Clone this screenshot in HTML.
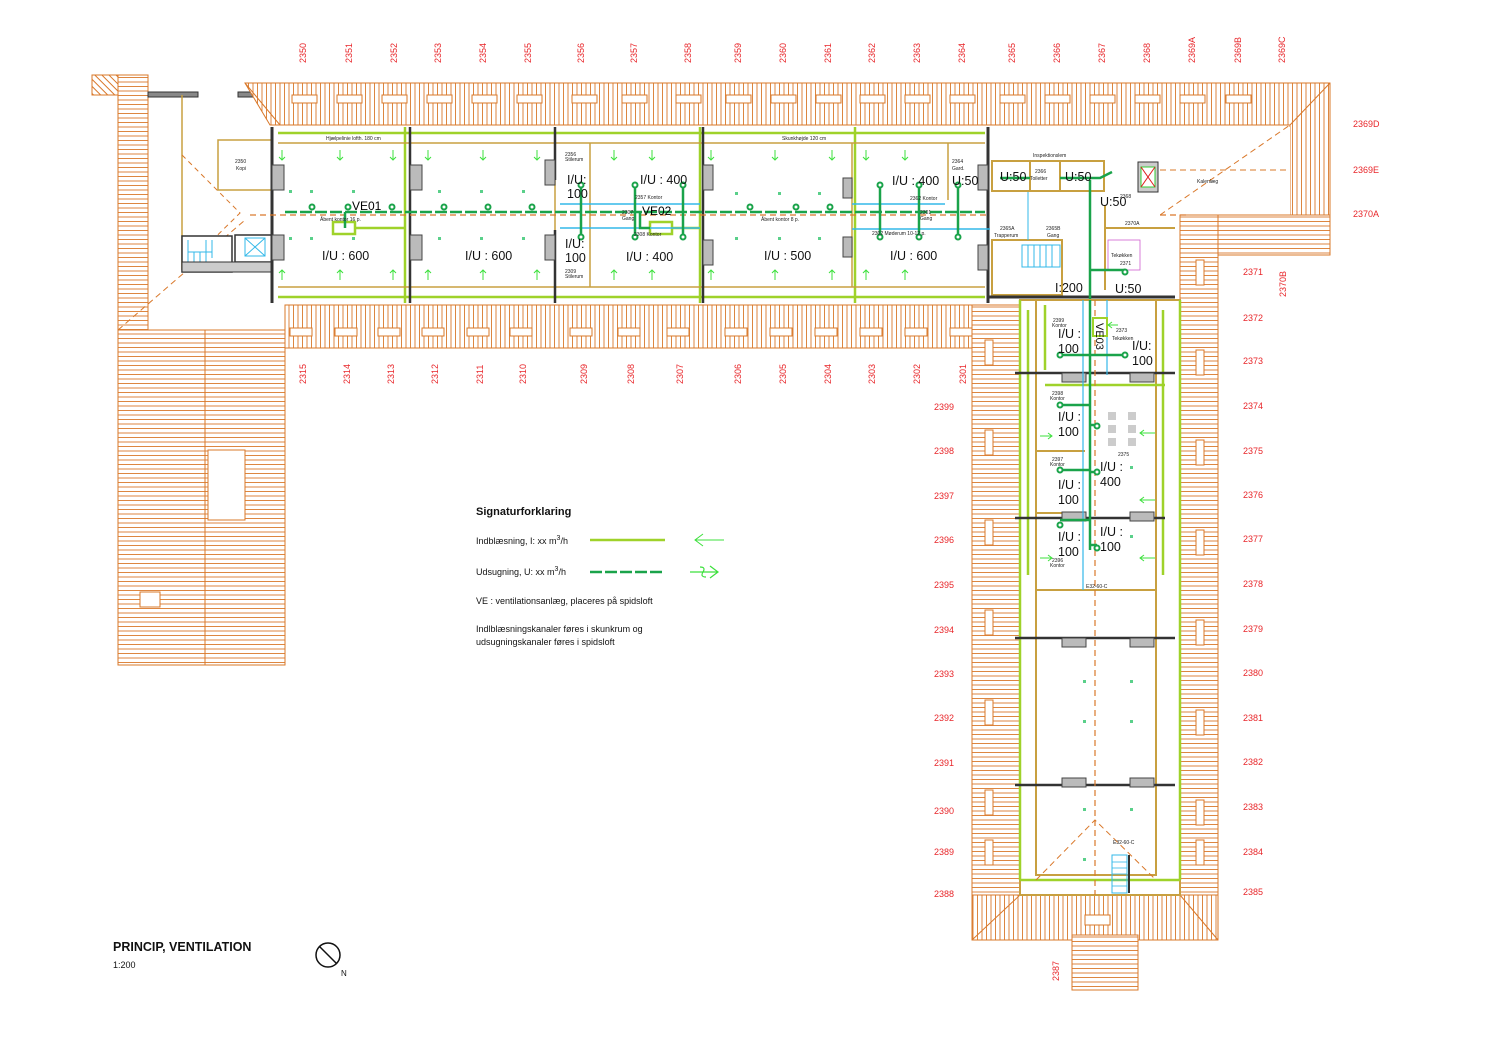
<!DOCTYPE html>
<html><head><meta charset="utf-8"><style>
html,body{margin:0;padding:0;background:#fff}
svg{display:block}
text{font-family:"Liberation Sans",sans-serif}
.r{fill:#e8262a;font-size:9px}
.iu{font-size:12.5px;fill:#111}
.sm{font-size:5px;fill:#222}
</style></head><body>
<svg width="1485" height="1050" viewBox="0 0 1485 1050" xmlns="http://www.w3.org/2000/svg">
<defs>
<pattern id="vh" width="4.5" height="10" patternUnits="userSpaceOnUse"><rect width="4.5" height="10" fill="#fff"/><line x1="1" y1="0" x2="1" y2="10" stroke="#d9782a" stroke-width="0.9"/></pattern>
<pattern id="hh" width="10" height="4.5" patternUnits="userSpaceOnUse"><rect width="10" height="4.5" fill="#fff"/><line x1="0" y1="1" x2="10" y2="1" stroke="#d9782a" stroke-width="0.9"/></pattern>
<pattern id="dh" width="5" height="5" patternUnits="userSpaceOnUse" patternTransform="rotate(45)"><rect width="5" height="5" fill="#fff"/><line x1="0" y1="1" x2="5" y2="1" stroke="#d9782a" stroke-width="1"/></pattern>
</defs>

<!-- top-left chunk -->
<rect x="92" y="75" width="56" height="20" fill="url(#dh)" stroke="#d9782a"/>
<!-- left wing -->
<rect x="118" y="75" width="30" height="260" fill="url(#hh)" stroke="#d9782a"/>
<rect x="118" y="330" width="167" height="335" fill="url(#hh)" stroke="#d9782a"/>
<line x1="205" y1="330" x2="205" y2="665" stroke="#d9782a"/>
<rect x="208" y="450" width="37" height="70" fill="#fff" stroke="#d9782a"/>
<rect x="140" y="592" width="20" height="15" fill="#fff" stroke="#d9782a"/>
<line x1="118" y1="330" x2="245" y2="220" stroke="#d9782a" stroke-dasharray="6,4"/>
<!-- left upper area -->
<rect x="148" y="92" width="50" height="5" fill="#888" stroke="#333"/>
<rect x="238" y="92" width="40" height="5" fill="#888" stroke="#333"/>
<line x1="182" y1="95" x2="182" y2="270" stroke="#c8a040" stroke-width="1.5"/>
<rect x="218" y="140" width="54" height="50" fill="none" stroke="#c8a040" stroke-width="1.5"/>
<text x="235" y="163" class="sm" font-size="6">2350</text><text x="236" y="170" class="sm" font-size="6">Kopi</text>
<path d="M182,155 L240,213 L182,270" fill="none" stroke="#d9782a" stroke-dasharray="5,4"/>
<rect x="182" y="236" width="50" height="36" fill="#fff" stroke="#333" stroke-width="1.5"/>
<g stroke="#33b8e8" stroke-width="1"><line x1="188" y1="240" x2="188" y2="268"/><line x1="194" y1="252" x2="194" y2="268"/><line x1="200" y1="252" x2="200" y2="268"/><line x1="206" y1="240" x2="206" y2="268"/><line x1="188" y1="252" x2="212" y2="252"/><line x1="212" y1="240" x2="212" y2="258"/></g>
<rect x="235" y="235" width="37" height="27" fill="#fff" stroke="#333" stroke-width="1.5"/>
<rect x="245" y="238" width="20" height="18" fill="none" stroke="#33b8e8"/>
<path d="M245,238 L265,256 M265,238 L245,256" stroke="#33b8e8"/>
<rect x="182" y="262" width="90" height="10" fill="#ccc" stroke="#333"/>

<!-- top roof band -->
<polygon points="245,83 1330,83 1330,255 1290,255 1290,125 285,125 270,125" fill="url(#vh)" stroke="#d9782a"/>
<line x1="245" y1="83" x2="280" y2="125" stroke="#d9782a"/>
<g fill="#fff" stroke="#d9782a">
<rect x="292" y="95" width="25" height="8"/><rect x="337" y="95" width="25" height="8"/><rect x="382" y="95" width="25" height="8"/><rect x="427" y="95" width="25" height="8"/><rect x="472" y="95" width="25" height="8"/><rect x="517" y="95" width="25" height="8"/><rect x="572" y="95" width="25" height="8"/><rect x="622" y="95" width="25" height="8"/><rect x="676" y="95" width="25" height="8"/><rect x="726" y="95" width="25" height="8"/><rect x="771" y="95" width="25" height="8"/><rect x="816" y="95" width="25" height="8"/><rect x="860" y="95" width="25" height="8"/><rect x="905" y="95" width="25" height="8"/><rect x="950" y="95" width="25" height="8"/><rect x="1000" y="95" width="25" height="8"/><rect x="1045" y="95" width="25" height="8"/><rect x="1090" y="95" width="25" height="8"/><rect x="1135" y="95" width="25" height="8"/><rect x="1180" y="95" width="25" height="8"/><rect x="1226" y="95" width="25" height="8"/>
</g>
<!-- right end -->
<rect x="1160" y="127" width="130" height="88" fill="#fff"/>
<rect x="1180" y="215" width="150" height="40" fill="url(#hh)" stroke="#d9782a"/>
<line x1="1290" y1="125" x2="1330" y2="83" stroke="#d9782a"/>
<path d="M1160,215 L1290,125" stroke="#d9782a" stroke-dasharray="6,4" fill="none"/>
<line x1="1150" y1="170" x2="1290" y2="170" stroke="#d9782a" stroke-dasharray="6,4"/>
<text x="1197" y="183" class="sm" font-size="6">Kalenlæg</text>

<!-- main bottom band -->
<rect x="285" y="305" width="725" height="43" fill="url(#vh)" stroke="#d9782a"/>
<g fill="#fff" stroke="#d9782a">
<rect x="290" y="328" width="22" height="8"/><rect x="335" y="328" width="22" height="8"/><rect x="378" y="328" width="22" height="8"/><rect x="422" y="328" width="22" height="8"/><rect x="467" y="328" width="22" height="8"/><rect x="510" y="328" width="22" height="8"/><rect x="570" y="328" width="22" height="8"/><rect x="618" y="328" width="22" height="8"/><rect x="667" y="328" width="22" height="8"/><rect x="725" y="328" width="22" height="8"/><rect x="770" y="328" width="22" height="8"/><rect x="815" y="328" width="22" height="8"/><rect x="860" y="328" width="22" height="8"/><rect x="905" y="328" width="22" height="8"/><rect x="950" y="328" width="22" height="8"/>
</g>

<!-- right wing roofs -->
<rect x="972" y="305" width="48" height="635" fill="url(#hh)" stroke="#d9782a"/>
<rect x="1180" y="215" width="38" height="725" fill="url(#hh)" stroke="#d9782a"/>
<rect x="972" y="895" width="246" height="45" fill="url(#vh)" stroke="#d9782a"/>
<line x1="972" y1="940" x2="1020" y2="895" stroke="#d9782a"/><line x1="1218" y1="940" x2="1180" y2="895" stroke="#d9782a"/>
<rect x="1072" y="935" width="66" height="55" fill="url(#hh)" stroke="#d9782a"/>
<g fill="#fff" stroke="#d9782a">
<rect x="985" y="340" width="8" height="25"/><rect x="985" y="430" width="8" height="25"/><rect x="985" y="520" width="8" height="25"/><rect x="985" y="610" width="8" height="25"/><rect x="985" y="700" width="8" height="25"/><rect x="985" y="790" width="8" height="25"/><rect x="985" y="840" width="8" height="25"/>
<rect x="1196" y="260" width="8" height="25"/><rect x="1196" y="350" width="8" height="25"/><rect x="1196" y="440" width="8" height="25"/><rect x="1196" y="530" width="8" height="25"/><rect x="1196" y="620" width="8" height="25"/><rect x="1196" y="710" width="8" height="25"/><rect x="1196" y="800" width="8" height="25"/><rect x="1196" y="840" width="8" height="25"/>
<rect x="1085" y="915" width="25" height="10"/>
</g>

<!-- main wing interior -->
<rect x="272" y="127" width="718" height="176" fill="#fff"/>
<line x1="272" y1="127" x2="272" y2="303" stroke="#333" stroke-width="3"/>
<line x1="988" y1="127" x2="988" y2="303" stroke="#333" stroke-width="3"/>
<g stroke="#9fd22a" stroke-width="2.5" fill="none">
<line x1="278" y1="133" x2="985" y2="133"/>
<line x1="278" y1="297" x2="985" y2="297"/>
<line x1="405" y1="127" x2="405" y2="303"/>
<line x1="700" y1="127" x2="700" y2="303"/>
<line x1="855" y1="127" x2="855" y2="303"/>
<rect x="333" y="222" width="22" height="12"/><rect x="650" y="222" width="22" height="12"/>
<line x1="355" y1="228" x2="405" y2="228"/><line x1="672" y1="228" x2="700" y2="228"/>
</g>
<g stroke="#c8a040" stroke-width="1.5" fill="none">
<line x1="278" y1="143" x2="985" y2="143"/>
<line x1="278" y1="287" x2="985" y2="287"/>
<line x1="590" y1="143" x2="590" y2="287"/>
<line x1="852" y1="143" x2="852" y2="287"/>
<line x1="948" y1="143" x2="948" y2="200"/>
<line x1="555" y1="143" x2="555" y2="287"/>
<line x1="703" y1="143" x2="703" y2="287"/>
</g>
<g stroke="#333" stroke-width="2.5">
<line x1="410" y1="127" x2="410" y2="303"/><line x1="555" y1="127" x2="555" y2="180"/><line x1="555" y1="230" x2="555" y2="303"/><line x1="703" y1="127" x2="703" y2="303"/>
</g>
<g fill="#bbb" stroke="#444">
<rect x="272" y="165" width="12" height="25"/><rect x="272" y="235" width="12" height="25"/>
<rect x="410" y="165" width="12" height="25"/><rect x="410" y="235" width="12" height="25"/>
<rect x="545" y="160" width="10" height="25"/><rect x="545" y="235" width="10" height="25"/>
<rect x="703" y="165" width="10" height="25"/><rect x="703" y="240" width="10" height="25"/>
<rect x="843" y="178" width="9" height="20"/><rect x="843" y="237" width="9" height="20"/>
<rect x="978" y="165" width="10" height="25"/><rect x="978" y="245" width="10" height="25"/>
</g>
<g stroke="#33b8e8" stroke-width="1.5">
<line x1="560" y1="204" x2="700" y2="204"/><line x1="560" y1="228" x2="700" y2="228"/>
<line x1="852" y1="204" x2="945" y2="204"/><line x1="852" y1="229" x2="990" y2="229"/>
</g>
<line x1="250" y1="215" x2="1190" y2="215" stroke="#d9782a" stroke-dasharray="6,4" stroke-width="1.2"/>
<line x1="285" y1="212" x2="985" y2="212" stroke="#1aa34a" stroke-width="2.5" stroke-dasharray="12,3"/>
<g stroke="#1aa34a" stroke-width="2.5" fill="none">
<line x1="581" y1="185" x2="581" y2="237"/><line x1="635" y1="185" x2="635" y2="237"/><line x1="683" y1="185" x2="683" y2="237"/>
<line x1="880" y1="185" x2="880" y2="237"/><line x1="919" y1="185" x2="919" y2="237"/><line x1="958" y1="185" x2="958" y2="237"/>
<path d="M640,212 L640,228 L650,228"/><path d="M345,212 L345,228"/>
</g>
<g fill="#fff" stroke="#1aa34a" stroke-width="2">
<circle cx="312" cy="207" r="2.5"/><circle cx="348" cy="207" r="2.5"/><circle cx="392" cy="207" r="2.5"/>
<circle cx="444" cy="207" r="2.5"/><circle cx="488" cy="207" r="2.5"/><circle cx="532" cy="207" r="2.5"/>
<circle cx="581" cy="185" r="2.5"/><circle cx="581" cy="237" r="2.5"/><circle cx="635" cy="185" r="2.5"/><circle cx="635" cy="237" r="2.5"/><circle cx="683" cy="185" r="2.5"/><circle cx="683" cy="237" r="2.5"/>
<circle cx="750" cy="207" r="2.5"/><circle cx="796" cy="207" r="2.5"/><circle cx="830" cy="207" r="2.5"/>
<circle cx="880" cy="185" r="2.5"/><circle cx="880" cy="237" r="2.5"/><circle cx="919" cy="185" r="2.5"/><circle cx="919" cy="237" r="2.5"/><circle cx="958" cy="185" r="2.5"/><circle cx="958" cy="237" r="2.5"/>
</g>
<g stroke="#3ce03c" stroke-width="1" fill="none">
<path d="M282,150 v10 m-3,-3 l3,3 l3,-3 M340,150 v10 m-3,-3 l3,3 l3,-3 M393,150 v10 m-3,-3 l3,3 l3,-3 M428,150 v10 m-3,-3 l3,3 l3,-3 M483,150 v10 m-3,-3 l3,3 l3,-3 M537,150 v10 m-3,-3 l3,3 l3,-3 M614,150 v10 m-3,-3 l3,3 l3,-3 M652,150 v10 m-3,-3 l3,3 l3,-3 M711,150 v10 m-3,-3 l3,3 l3,-3 M775,150 v10 m-3,-3 l3,3 l3,-3 M832,150 v10 m-3,-3 l3,3 l3,-3 M866,150 v10 m-3,-3 l3,3 l3,-3 M905,150 v10 m-3,-3 l3,3 l3,-3"/>
<path d="M282,280 v-10 m-3,3 l3,-3 l3,3 M340,280 v-10 m-3,3 l3,-3 l3,3 M393,280 v-10 m-3,3 l3,-3 l3,3 M428,280 v-10 m-3,3 l3,-3 l3,3 M483,280 v-10 m-3,3 l3,-3 l3,3 M537,280 v-10 m-3,3 l3,-3 l3,3 M614,280 v-10 m-3,3 l3,-3 l3,3 M652,280 v-10 m-3,3 l3,-3 l3,3 M711,280 v-10 m-3,3 l3,-3 l3,3 M775,280 v-10 m-3,3 l3,-3 l3,3 M832,280 v-10 m-3,3 l3,-3 l3,3 M866,280 v-10 m-3,3 l3,-3 l3,3 M905,280 v-10 m-3,3 l3,-3 l3,3"/>
</g>
<g fill="#5ad08a">
<rect x="289" y="190" width="3" height="3"/><rect x="310" y="190" width="3" height="3"/><rect x="352" y="190" width="3" height="3"/><rect x="289" y="237" width="3" height="3"/><rect x="310" y="237" width="3" height="3"/><rect x="352" y="237" width="3" height="3"/>
<rect x="438" y="190" width="3" height="3"/><rect x="480" y="190" width="3" height="3"/><rect x="522" y="190" width="3" height="3"/><rect x="438" y="237" width="3" height="3"/><rect x="480" y="237" width="3" height="3"/><rect x="522" y="237" width="3" height="3"/>
<rect x="735" y="192" width="3" height="3"/><rect x="778" y="192" width="3" height="3"/><rect x="818" y="192" width="3" height="3"/><rect x="735" y="237" width="3" height="3"/><rect x="778" y="237" width="3" height="3"/><rect x="818" y="237" width="3" height="3"/>
</g>
<text x="352" y="210" font-size="12">VE01</text>
<text x="642" y="215" font-size="12">VE02</text>
<text x="320" y="221" class="sm">Åbent kontor 16 p.</text>
<text x="761" y="221" class="sm">Åbent kontor 8 p.</text>
<text x="635" y="199" class="sm">2357 Kontor</text>
<text x="634" y="236" class="sm">2308 Kontor</text>
<text x="910" y="200" class="sm">2362 Kontor</text>
<text x="872" y="235" class="sm">2302 Møderum 10-12 p.</text>
<text x="622" y="214" class="sm">2307</text><text x="622" y="220" class="sm">Gang</text>
<text x="920" y="214" class="sm">2301</text><text x="920" y="220" class="sm">Gang</text>
<text x="565" y="156" class="sm">2356</text><text x="565" y="161" class="sm">Stilerum</text>
<text x="565" y="273" class="sm">2309</text><text x="565" y="278" class="sm">Stilerum</text>
<text x="952" y="163" class="sm" font-size="6">2364</text><text x="952" y="170" class="sm" font-size="6">Gard.</text>
<text x="326" y="140" class="sm" font-size="4.5">Hjælpelinie lofth. 180 cm</text>
<text x="782" y="140" class="sm" font-size="4.5">Skunkhøjde 120 cm</text>
<text x="322" y="260" class="iu">I/U : 600</text>
<text x="465" y="260" class="iu">I/U : 600</text>
<text x="567" y="184" class="iu">I/U:</text><text x="567" y="198" class="iu">100</text>
<text x="565" y="248" class="iu">I/U:</text><text x="565" y="262" class="iu">100</text>
<text x="640" y="184" class="iu">I/U : 400</text>
<text x="626" y="261" class="iu">I/U : 400</text>
<text x="764" y="260" class="iu">I/U : 500</text>
<text x="892" y="185" class="iu">I/U : 400</text>
<text x="890" y="260" class="iu">I/U : 600</text>
<text x="952" y="185" class="iu">U:50</text>

<!-- service block top right -->
<rect x="990" y="160" width="170" height="140" fill="#fff"/>
<g stroke="#c8a040" stroke-width="2" fill="none">
<rect x="992" y="161" width="112" height="30"/>
<line x1="1030" y1="161" x2="1030" y2="191"/><line x1="1060" y1="161" x2="1060" y2="191"/>
<rect x="992" y="240" width="70" height="55"/>
<path d="M1105,205 L1105,290 M1105,228 L1175,228"/>
</g>
<rect x="1138" y="162" width="20" height="30" fill="#ccc" stroke="#333"/>
<rect x="1141" y="167" width="14" height="20" fill="#fff" stroke="#3c3"/>
<path d="M1141,167 L1155,187 M1155,167 L1141,187" stroke="#e02020"/>
<rect x="1022" y="245" width="38" height="22" fill="none" stroke="#33b8e8"/>
<g stroke="#33b8e8"><line x1="1028" y1="245" x2="1028" y2="267"/><line x1="1034" y1="245" x2="1034" y2="267"/><line x1="1040" y1="245" x2="1040" y2="267"/><line x1="1046" y1="245" x2="1046" y2="267"/><line x1="1052" y1="245" x2="1052" y2="267"/><line x1="1028" y1="192" x2="1028" y2="240"/></g>
<rect x="1108" y="240" width="32" height="30" fill="none" stroke="#d060d0" stroke-width="0.8"/>
<line x1="988" y1="297" x2="1175" y2="297" stroke="#333" stroke-width="3"/>
<line x1="1090" y1="180" x2="1090" y2="370" stroke="#1aa34a" stroke-width="2.5"/>
<g stroke="#1aa34a" stroke-width="2.5" fill="none"><path d="M1000,178 H1030 M1060,178 H1100 L1112,172 M1090,270 H1125"/></g>
<text x="1033" y="157" class="sm" font-size="6">Inspektionslem</text>
<text x="1035" y="173" class="sm">2366</text><text x="1030" y="180" class="sm" font-size="4">Toiletter</text>
<text x="1120" y="198" class="sm">2368</text>
<text x="1125" y="225" class="sm">2370A</text>
<text x="1000" y="230" class="sm" font-size="5.5">2365A</text><text x="994" y="237" class="sm" font-size="5.5">Trapperum</text>
<text x="1046" y="230" class="sm" font-size="5.5">2365B</text><text x="1047" y="237" class="sm" font-size="5.5">Gang</text>
<text x="1111" y="257" class="sm" font-size="5.5">Tekøkken</text><text x="1120" y="265" class="sm" font-size="5.5">2371</text>
<text x="1000" y="181" class="iu">U:50</text>
<text x="1065" y="181" class="iu">U:50</text>
<text x="1100" y="206" class="iu">U:50</text>
<text x="1055" y="292" class="iu">I:200</text>
<text x="1115" y="293" class="iu">U:50</text>

<!-- right wing interior -->
<rect x="1020" y="300" width="160" height="595" fill="#fff"/>
<g stroke="#c8a040" stroke-width="2" fill="none">
<rect x="1020" y="300" width="160" height="595"/>
<rect x="1036" y="590" width="120" height="285"/>
<line x1="1036" y1="300" x2="1036" y2="590"/><line x1="1156" y1="300" x2="1156" y2="590"/>
<line x1="1036" y1="451" x2="1085" y2="451"/><line x1="1036" y1="513" x2="1085" y2="513"/>
</g>
<g stroke="#9fd22a" stroke-width="2.5" fill="none">
<line x1="1028" y1="310" x2="1028" y2="575"/><line x1="1163" y1="310" x2="1163" y2="575"/>
<line x1="1020" y1="880" x2="1180" y2="880"/><line x1="1020" y1="880" x2="1020" y2="300"/><line x1="1180" y1="300" x2="1180" y2="880"/>
<line x1="1045" y1="305" x2="1045" y2="370"/><line x1="1045" y1="385" x2="1165" y2="385"/>
</g>
<g stroke="#333" stroke-width="2.5">
<line x1="1015" y1="373" x2="1175" y2="373"/><line x1="1015" y1="518" x2="1165" y2="518"/><line x1="1015" y1="638" x2="1175" y2="638"/><line x1="1015" y1="785" x2="1175" y2="785"/>
</g>
<g fill="#bbb" stroke="#444">
<rect x="1062" y="373" width="24" height="9"/><rect x="1130" y="373" width="24" height="9"/>
<rect x="1062" y="512" width="24" height="9"/><rect x="1130" y="512" width="24" height="9"/>
<rect x="1062" y="638" width="24" height="9"/><rect x="1130" y="638" width="24" height="9"/>
<rect x="1062" y="778" width="24" height="9"/><rect x="1130" y="778" width="24" height="9"/>
</g>
<line x1="1095" y1="300" x2="1095" y2="895" stroke="#d9782a" stroke-dasharray="6,4" stroke-width="1.2"/>
<path d="M1036,880 L1095,820 L1156,880" fill="none" stroke="#d9782a" stroke-dasharray="6,4"/>
<line x1="1083" y1="300" x2="1083" y2="590" stroke="#33b8e8" stroke-width="1.2"/>
<line x1="1107" y1="300" x2="1107" y2="375" stroke="#33b8e8" stroke-width="1.2"/>
<rect x="1112" y="855" width="15" height="38" fill="none" stroke="#33b8e8"/>
<g stroke="#33b8e8" stroke-width="0.8"><line x1="1112" y1="862" x2="1127" y2="862"/><line x1="1112" y1="868" x2="1127" y2="868"/><line x1="1112" y1="874" x2="1127" y2="874"/><line x1="1112" y1="880" x2="1127" y2="880"/><line x1="1112" y1="886" x2="1127" y2="886"/></g>
<line x1="1129" y1="855" x2="1129" y2="893" stroke="#333" stroke-width="2"/>
<g stroke="#1aa34a" stroke-width="2.5" fill="none">
<path d="M1090,300 V550 M1060,355 H1090 V355 H1125 M1060,405 H1090 M1060,470 H1090 M1060,520 H1090 M1090,425 H1097 M1090,472 H1097 M1090,545 H1097"/>
</g>
<rect x="1093" y="318" width="14" height="18" fill="#fff" stroke="#9fd22a" stroke-width="2"/>
<g fill="#fff" stroke="#1aa34a" stroke-width="2">
<circle cx="1060" cy="355" r="2.5"/><circle cx="1125" cy="355" r="2.5"/><circle cx="1060" cy="405" r="2.5"/><circle cx="1097" cy="426" r="2.5"/><circle cx="1060" cy="470" r="2.5"/><circle cx="1097" cy="472" r="2.5"/><circle cx="1060" cy="525" r="2.5"/><circle cx="1097" cy="548" r="2.5"/><circle cx="1125" cy="272" r="2.5"/>
</g>
<g fill="#ccc"><rect x="1108" y="412" width="8" height="8"/><rect x="1128" y="412" width="8" height="8"/><rect x="1108" y="425" width="8" height="8"/><rect x="1128" y="425" width="8" height="8"/><rect x="1108" y="438" width="8" height="8"/><rect x="1128" y="438" width="8" height="8"/></g>
<g stroke="#3ce03c" fill="none"><path d="M1155,433 h-15 m4,-3 l-4,3 l4,3 M1155,500 h-15 m4,-3 l-4,3 l4,3 M1155,558 h-15 m4,-3 l-4,3 l4,3 M1040,436 h12 m-4,-3 l4,3 l-4,3 M1040,558 h12 m-4,-3 l4,3 l-4,3 M1118,325 h-10 m4,-3 l-4,3 l4,3"/></g>
<g fill="#5ad08a"><rect x="1130" y="466" width="3" height="3"/><rect x="1130" y="535" width="3" height="3"/><rect x="1083" y="680" width="3" height="3"/><rect x="1130" y="680" width="3" height="3"/><rect x="1083" y="720" width="3" height="3"/><rect x="1130" y="720" width="3" height="3"/><rect x="1083" y="808" width="3" height="3"/><rect x="1130" y="808" width="3" height="3"/><rect x="1083" y="858" width="3" height="3"/></g>
<text x="1117" y="334" font-size="11" transform="rotate(90 1112 318)" fill="#111">VE03</text>
<text x="1053" y="322" class="sm">2399</text><text x="1052" y="327" class="sm">Kontor</text>
<text x="1116" y="332" class="sm">2373</text><text x="1112" y="340" class="sm">Tekøkken</text>
<text x="1052" y="395" class="sm">2398</text><text x="1050" y="400" class="sm">Kontor</text>
<text x="1052" y="461" class="sm">2397</text><text x="1050" y="466" class="sm">Kontor</text>
<text x="1052" y="562" class="sm">2396</text><text x="1050" y="567" class="sm">Kontor</text>
<text x="1118" y="456" class="sm">2375</text>
<text x="1086" y="588" class="sm" font-size="4">E32-60-C</text>
<text x="1113" y="844" class="sm" font-size="4">E32-60-C</text>
<text x="1058" y="338" class="iu">I/U :</text><text x="1058" y="353" class="iu">100</text>
<text x="1132" y="350" class="iu">I/U:</text><text x="1132" y="365" class="iu">100</text>
<text x="1058" y="421" class="iu">I/U :</text><text x="1058" y="436" class="iu">100</text>
<text x="1058" y="489" class="iu">I/U :</text><text x="1058" y="504" class="iu">100</text>
<text x="1100" y="471" class="iu">I/U :</text><text x="1100" y="486" class="iu">400</text>
<text x="1058" y="541" class="iu">I/U :</text><text x="1058" y="556" class="iu">100</text>
<text x="1100" y="536" class="iu">I/U :</text><text x="1100" y="551" class="iu">100</text>

<g class="r">
<text transform="translate(306,63) rotate(-90)">2350</text><text transform="translate(352,63) rotate(-90)">2351</text><text transform="translate(397,63) rotate(-90)">2352</text><text transform="translate(441,63) rotate(-90)">2353</text><text transform="translate(486,63) rotate(-90)">2354</text><text transform="translate(531,63) rotate(-90)">2355</text><text transform="translate(584,63) rotate(-90)">2356</text><text transform="translate(637,63) rotate(-90)">2357</text><text transform="translate(691,63) rotate(-90)">2358</text><text transform="translate(741,63) rotate(-90)">2359</text><text transform="translate(786,63) rotate(-90)">2360</text><text transform="translate(831,63) rotate(-90)">2361</text><text transform="translate(875,63) rotate(-90)">2362</text><text transform="translate(920,63) rotate(-90)">2363</text><text transform="translate(965,63) rotate(-90)">2364</text><text transform="translate(1015,63) rotate(-90)">2365</text><text transform="translate(1060,63) rotate(-90)">2366</text><text transform="translate(1105,63) rotate(-90)">2367</text><text transform="translate(1150,63) rotate(-90)">2368</text><text transform="translate(1195,63) rotate(-90)">2369A</text><text transform="translate(1241,63) rotate(-90)">2369B</text><text transform="translate(1285,63) rotate(-90)">2369C</text>
<text transform="translate(306,384) rotate(-90)">2315</text><text transform="translate(350,384) rotate(-90)">2314</text><text transform="translate(394,384) rotate(-90)">2313</text><text transform="translate(438,384) rotate(-90)">2312</text><text transform="translate(483,384) rotate(-90)">2311</text><text transform="translate(526,384) rotate(-90)">2310</text><text transform="translate(587,384) rotate(-90)">2309</text><text transform="translate(634,384) rotate(-90)">2308</text><text transform="translate(683,384) rotate(-90)">2307</text><text transform="translate(741,384) rotate(-90)">2306</text><text transform="translate(786,384) rotate(-90)">2305</text><text transform="translate(831,384) rotate(-90)">2304</text><text transform="translate(875,384) rotate(-90)">2303</text><text transform="translate(920,384) rotate(-90)">2302</text><text transform="translate(966,384) rotate(-90)">2301</text>
<text transform="translate(1286,297) rotate(-90)">2370B</text><text transform="translate(1059,981) rotate(-90)">2387</text>
<text x="1353" y="127">2369D</text><text x="1353" y="173">2369E</text><text x="1353" y="217">2370A</text>
<text x="1243" y="275">2371</text><text x="1243" y="321">2372</text><text x="1243" y="364">2373</text><text x="1243" y="409">2374</text><text x="1243" y="454">2375</text><text x="1243" y="498">2376</text><text x="1243" y="542">2377</text><text x="1243" y="587">2378</text><text x="1243" y="632">2379</text><text x="1243" y="676">2380</text><text x="1243" y="721">2381</text><text x="1243" y="765">2382</text><text x="1243" y="810">2383</text><text x="1243" y="855">2384</text><text x="1243" y="895">2385</text>
<text x="934" y="410">2399</text><text x="934" y="454">2398</text><text x="934" y="499">2397</text><text x="934" y="543">2396</text><text x="934" y="588">2395</text><text x="934" y="633">2394</text><text x="934" y="677">2393</text><text x="934" y="721">2392</text><text x="934" y="766">2391</text><text x="934" y="814">2390</text><text x="934" y="855">2389</text><text x="934" y="897">2388</text>
</g>

<text x="476" y="515" font-size="11" font-weight="bold" fill="#111">Signaturforklaring</text>
<text x="476" y="544" font-size="9" fill="#111">Indblæsning, I: xx m<tspan dy="-4" font-size="7">3</tspan><tspan dy="4">/h</tspan></text>
<line x1="590" y1="540" x2="665" y2="540" stroke="#9fd22a" stroke-width="2.5"/>
<path d="M724,540 H695 m8,-6 l-8,6 l8,6" fill="none" stroke="#3ce03c"/>
<text x="476" y="575" font-size="9" fill="#111">Udsugning, U: xx m<tspan dy="-4" font-size="7">3</tspan><tspan dy="4">/h</tspan></text>
<line x1="590" y1="572" x2="665" y2="572" stroke="#1aa34a" stroke-width="2.5" stroke-dasharray="12,3"/>
<path d="M690,572 H718 m-8,-6 l8,6 l-8,6 M700,567 q6,0 3,5 q-3,5 3,5" fill="none" stroke="#3ce03c" stroke-width="1.2"/>
<text x="476" y="604" font-size="9" fill="#111">VE : ventilationsanlæg, placeres på spidsloft</text>
<text x="476" y="632" font-size="9" fill="#111">Indlblæsningskanaler føres i skunkrum og</text>
<text x="476" y="645" font-size="9" fill="#111">udsugningskanaler føres i spidsloft</text>

<text x="113" y="951" font-size="12.5" font-weight="bold" fill="#111">PRINCIP, VENTILATION</text>
<text x="113" y="968" font-size="9" fill="#111">1:200</text>
<circle cx="328" cy="955" r="12" fill="none" stroke="#111" stroke-width="1.5"/>
<line x1="319" y1="946" x2="337" y2="964" stroke="#111" stroke-width="1.5"/>
<text x="341" y="976" font-size="8" fill="#111">N</text>
</svg>
</body></html>
